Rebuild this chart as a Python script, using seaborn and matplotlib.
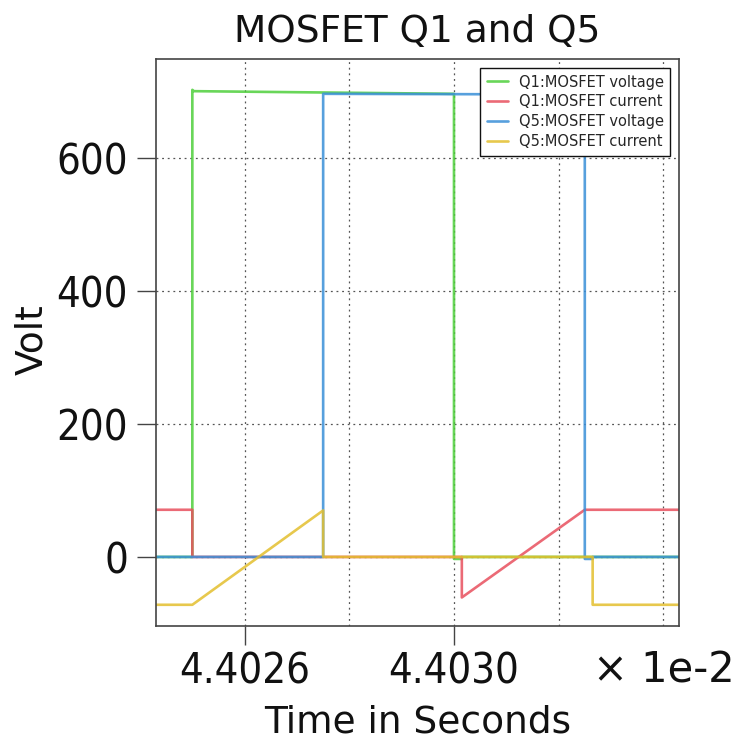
import numpy as np
import pandas as pd
import seaborn as sns
import matplotlib
matplotlib.use("Agg")
import matplotlib.pyplot as plt
from matplotlib.ticker import FixedLocator, MultipleLocator

# Time in units of 1e-2 s, values in V (voltage) / A (current)
q1_voltage_t = [4.40243, 4.40250, 4.40250, 4.402503, 4.40300, 4.40300, 4.403015, 4.403015, 4.40343]
q1_voltage_v = [0, 0, 703, 701, 697, -3, -3, 0, 0]

q1_current_t = [4.40243, 4.40250, 4.40250, 4.403015, 4.403015, 4.40325, 4.40343]
q1_current_v = [71, 71, 0, 0, -61, 71, 71]

q5_voltage_t = [4.40243, 4.40275, 4.40275, 4.40325, 4.40325, 4.403265, 4.403265, 4.40343]
q5_voltage_v = [0, 0, 697, 696, -3, -3, 0, 0]

q5_current_t = [4.40243, 4.40250, 4.40275, 4.40275, 4.403265, 4.403265, 4.40343]
q5_current_v = [-72, -72, 70, 0, 0, -72, -72]

series_names = ["Q1:MOSFET voltage", "Q1:MOSFET current",
                "Q5:MOSFET voltage", "Q5:MOSFET current"]
series_colors = ["#4fcf3c", "#e8505e", "#3a8fd8", "#e3bf2e"]

x_ticks = [4.4026, 4.4030]
x_tick_labels = ["4.4026", "4.4030"]
y_ticks = [0, 200, 400, 600]
y_tick_labels = ["0", "200", "400", "600"]

frames = []
for name, t, v in zip(series_names,
                      [q1_voltage_t, q1_current_t, q5_voltage_t, q5_current_t],
                      [q1_voltage_v, q1_current_v, q5_voltage_v, q5_current_v]):
    frames.append(pd.DataFrame({"t": t, "v": v, "series": name}))
df = pd.concat(frames, ignore_index=True)

sns.set_theme(style="white")
plt.rcParams["font.family"] = ["DejaVu Sans"]

fig, ax = plt.subplots(figsize=(7.39, 7.40), dpi=100)
fig.subplots_adjust(left=0.2107, right=0.9188, top=0.9199, bottom=0.154)

sns.lineplot(data=df, x="t", y="v", hue="series", hue_order=series_names,
             palette=dict(zip(series_names, series_colors)),
             sort=False, estimator=None, linewidth=1.9, alpha=0.85, ax=ax)

ax.set_xlim(4.40243, 4.40343)
ax.set_ylim(-104, 749)

ax.xaxis.set_major_locator(FixedLocator(x_ticks))
ax.set_xticklabels(x_tick_labels)
ax.xaxis.set_minor_locator(MultipleLocator(0.0002))
ax.yaxis.set_major_locator(FixedLocator(y_ticks))
ax.set_yticklabels(y_tick_labels)

ax.tick_params(axis="both", which="major", direction="out", length=14,
               width=1, color="#444444", labelsize=30, labelcolor="#111111")
ax.tick_params(axis="x", which="major", pad=3.5, bottom=True)
ax.tick_params(axis="y", which="major", pad=6, left=True)
ax.tick_params(which="minor", length=0)
# narrow digits for the numeric tick labels
for lbl in ax.get_xticklabels() + ax.get_yticklabels():
    lbl.set_fontstretch("condensed")

grid_style = dict(color="#555555", linestyle=(0, (1.5, 3)), linewidth=0.9)
ax.grid(False)
ax.grid(True, axis="x", which="both", **grid_style)
ax.grid(True, axis="y", which="major", **grid_style)

for sp in ax.spines.values():
    sp.set_color("#444444")
    sp.set_linewidth(1.2)

ax.set_title("MOSFET Q1 and Q5", fontsize=27, y=1.03, pad=0, color="#111111")

ax.set_xlabel("Time in Seconds", fontsize=27, color="#111111")
ax.xaxis.label.set_va("baseline")
ax.xaxis.set_label_coords(0.5, -0.187)
ax.set_ylabel("Volt", fontsize=27, color="#111111")
ax.yaxis.label.set_va("center")
ax.yaxis.set_label_coords(-0.236, 0.505)

fig.text(735 / 739, 1 - 682.7 / 740, "\u00d7 1e-2", ha="right", va="baseline",
         fontsize=30, color="#111111")

handles, labels = ax.get_legend_handles_labels()
leg = ax.legend(handles, labels, loc="upper right", fontsize=10.5,
                frameon=True, fancybox=False, framealpha=1, edgecolor="#111111",
                handlelength=1.5, handletextpad=0.7, labelspacing=0.33,
                borderpad=0.45, borderaxespad=0.6)
leg.get_frame().set_linewidth(1.0)
for h in leg.legend_handles:
    h.set_linewidth(1.9)
    h.set_alpha(0.85)

fig.savefig("out.png", dpi=100)
